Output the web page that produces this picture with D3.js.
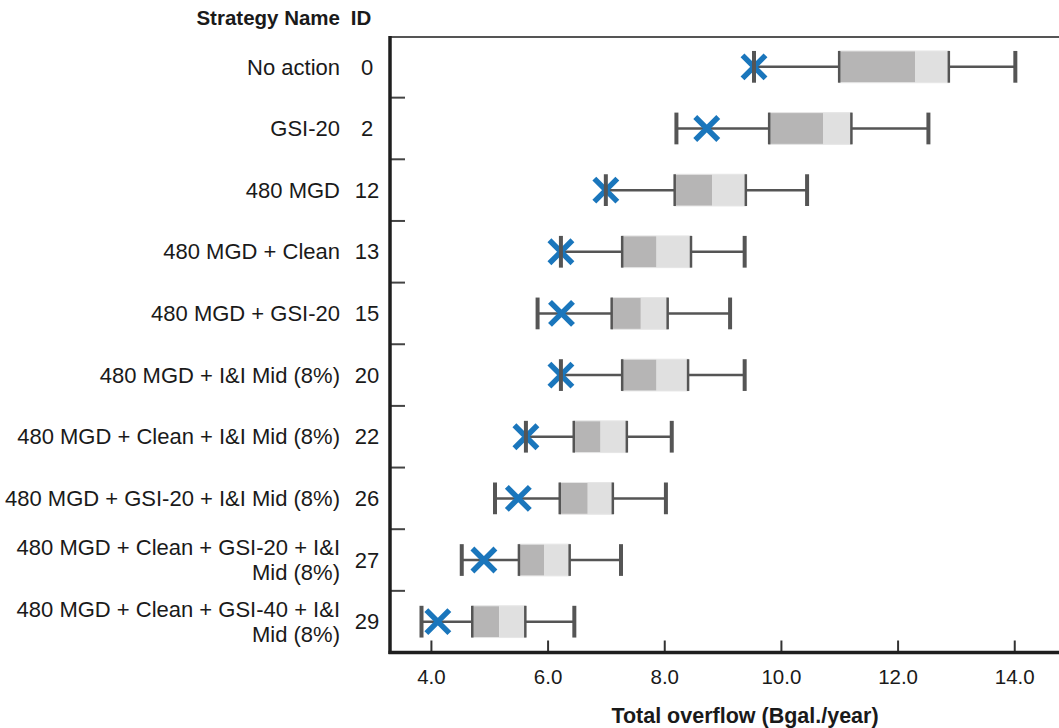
<!DOCTYPE html>
<html>
<head>
<meta charset="utf-8">
<script src="https://cdn.jsdelivr.net/npm/d3@7"></script>
<style>
  html, body { margin: 0; padding: 0; background: #fff; }
  svg { display: block; }
  text { font-family: "Liberation Sans", Arial, sans-serif; fill: #1a1a1a; }
</style>
</head>
<body>
<svg id="chart" width="1059" height="728"></svg>
<script>
// ---- data ----
const ids = ["0", "2", "12", "13", "15", "20", "22", "26", "27", "29"];
const names = [
  ["No action"],
  ["GSI-20"],
  ["480 MGD"],
  ["480 MGD + Clean"],
  ["480 MGD + GSI-20"],
  ["480 MGD + I&I Mid (8%)"],
  ["480 MGD + Clean + I&I Mid (8%)"],
  ["480 MGD + GSI-20 + I&I Mid (8%)"],
  ["480 MGD + Clean + GSI-20 + I&I", "Mid (8%)"],
  ["480 MGD + Clean + GSI-40 + I&I", "Mid (8%)"]
];
const minVals    = [9.53, 8.20, 6.99, 6.22, 5.82, 6.22, 5.62, 5.09, 4.52, 3.83];
const q1Vals     = [10.99, 9.79, 8.17, 7.27, 7.09, 7.27, 6.44, 6.20, 5.50, 4.70];
const medianVals = [12.29, 10.72, 8.81, 7.86, 7.59, 7.86, 6.90, 6.68, 5.93, 5.16];
const q3Vals     = [12.87, 11.20, 9.39, 8.45, 8.05, 8.40, 7.35, 7.11, 6.37, 5.61];
const maxVals    = [14.01, 12.52, 10.44, 9.37, 9.12, 9.37, 8.12, 8.02, 7.25, 6.45];
const markVals   = [9.53, 8.72, 6.99, 6.22, 6.23, 6.22, 5.62, 5.49, 4.90, 4.11];
const xTicks = [4, 6, 8, 10, 12, 14];
const xTitle = "Total overflow (Bgal./year)";
const headerName = "Strategy Name";
const headerId = "ID";

const rows = ids.map((id, i) => ({
  id, name: names[i], min: minVals[i], q1: q1Vals[i], med: medianVals[i],
  q3: q3Vals[i], max: maxVals[i], mark: markVals[i]
}));

// ---- layout ----
const svg = d3.select("#chart");
const pLeft = 390, pRight = 1062, pTop = 36, pBottom = 652.5;

const x = d3.scaleLinear().domain([3.29, 14.81]).range([pLeft, pRight]);
const y = d3.scaleBand().domain(ids).range([pTop, pBottom]).paddingInner(0).paddingOuter(0);
const bw = y.bandwidth();
const boxH = bw * 0.515;

const dark = "#555555";

// top border
svg.append("line")
  .attr("x1", pLeft).attr("x2", pRight).attr("y1", pTop + 1).attr("y2", pTop + 1)
  .attr("stroke", "#555").attr("stroke-width", 2);

// left category boundary ticks (inward)
svg.append("g").selectAll("line")
  .data(ids.slice(1))
  .join("line")
  .attr("x1", pLeft).attr("x2", pLeft + 15)
  .attr("y1", d => y(d)).attr("y2", d => y(d))
  .attr("stroke", "#444").attr("stroke-width", 2);

// x axis ticks (inward, upward)
svg.append("g").selectAll("line")
  .data(xTicks)
  .join("line")
  .attr("x1", d => x(d)).attr("x2", d => x(d))
  .attr("y1", pBottom).attr("y2", pBottom - 12)
  .attr("stroke", "#333").attr("stroke-width", 2);

svg.append("g").selectAll("text")
  .data(xTicks)
  .join("text")
  .attr("x", d => x(d)).attr("y", 677)
  .attr("dy", "0.35em")
  .attr("text-anchor", "middle")
  .attr("font-size", 20.5)
  .text(d => d3.format(".1f")(d));

// axis lines
svg.append("line")
  .attr("x1", pLeft).attr("x2", pLeft).attr("y1", pTop).attr("y2", pBottom + 1.5)
  .attr("stroke", "#1e1e1e").attr("stroke-width", 3.5);
svg.append("line")
  .attr("x1", pLeft - 1.5).attr("x2", pRight).attr("y1", pBottom).attr("y2", pBottom)
  .attr("stroke", "#1e1e1e").attr("stroke-width", 3.5);

// x title
svg.append("text")
  .attr("x", 745).attr("y", 715)
  .attr("dy", "0.35em")
  .attr("text-anchor", "middle")
  .attr("font-size", 21.5).attr("font-weight", "bold")
  .text(xTitle);

// header
svg.append("text")
  .attr("x", 340).attr("y", 18)
  .attr("dy", "0.35em")
  .attr("text-anchor", "end")
  .attr("font-size", 20.5).attr("font-weight", "bold")
  .text(headerName);
svg.append("text")
  .attr("x", 361).attr("y", 18)
  .attr("dy", "0.35em")
  .attr("text-anchor", "middle")
  .attr("font-size", 20.5).attr("font-weight", "bold")
  .text(headerId);

// category labels (multi-line names as one text with tspans)
const lineGap = 25;
const lab = svg.append("g").selectAll("g").data(rows).join("g")
  .attr("transform", d => `translate(0,${y(d.id) + bw / 2})`);
lab.each(function(d) {
  const g = d3.select(this);
  const n = d.name.length;
  const t = g.append("text")
    .attr("text-anchor", "end")
    .attr("font-size", 22);
  d.name.forEach((line, j) => {
    t.append("tspan")
      .attr("x", 340)
      .attr("y", (j - (n - 1) / 2) * lineGap)
      .attr("dy", "0.35em")
      .text(line);
  });
  g.append("text")
    .attr("x", 367).attr("y", 0).attr("dy", "0.35em")
    .attr("text-anchor", "middle")
    .attr("font-size", 22)
    .text(d.id);
});

// boxes
const rowG = svg.append("g").selectAll("g").data(rows).join("g")
  .attr("transform", d => `translate(0,${y(d.id) + bw / 2})`);

// whisker lines
rowG.append("line")
  .attr("x1", d => x(d.min)).attr("x2", d => x(d.q1))
  .attr("stroke", dark).attr("stroke-width", 2.5);
rowG.append("line")
  .attr("x1", d => x(d.q3)).attr("x2", d => x(d.max))
  .attr("stroke", dark).attr("stroke-width", 2.5);

// box halves
rowG.append("rect")
  .attr("x", d => x(d.q1)).attr("width", d => x(d.med) - x(d.q1))
  .attr("y", -boxH / 2).attr("height", boxH)
  .attr("fill", "#b6b5b5");
rowG.append("rect")
  .attr("x", d => x(d.med)).attr("width", d => x(d.q3) - x(d.med))
  .attr("y", -boxH / 2).attr("height", boxH)
  .attr("fill", "#e0e0e0");
// faint top/bottom edges
rowG.append("rect")
  .attr("x", d => x(d.q1)).attr("width", d => x(d.q3) - x(d.q1))
  .attr("y", -boxH / 2).attr("height", boxH)
  .attr("fill", "none").attr("stroke", "#e6e6e6").attr("stroke-width", 1);
// box side lines
rowG.append("line")
  .attr("x1", d => x(d.q1)).attr("x2", d => x(d.q1))
  .attr("y1", -boxH / 2).attr("y2", boxH / 2)
  .attr("stroke", dark).attr("stroke-width", 2.5);
rowG.append("line")
  .attr("x1", d => x(d.q3)).attr("x2", d => x(d.q3))
  .attr("y1", -boxH / 2).attr("y2", boxH / 2)
  .attr("stroke", dark).attr("stroke-width", 2.5);

// X markers
const ms = 11.5;
rowG.append("path")
  .attr("d", d => {
    const cx = x(d.mark);
    return `M${cx - ms},${-ms}L${cx + ms},${ms}M${cx - ms},${ms}L${cx + ms},${-ms}`;
  })
  .attr("stroke", "#1a76bc").attr("stroke-width", 5.5).attr("fill", "none");

// caps
rowG.append("line")
  .attr("x1", d => x(d.min)).attr("x2", d => x(d.min))
  .attr("y1", -boxH / 2).attr("y2", boxH / 2)
  .attr("stroke", dark).attr("stroke-width", 4);
rowG.append("line")
  .attr("x1", d => x(d.max)).attr("x2", d => x(d.max))
  .attr("y1", -boxH / 2).attr("y2", boxH / 2)
  .attr("stroke", dark).attr("stroke-width", 4);
</script>
</body>
</html>
